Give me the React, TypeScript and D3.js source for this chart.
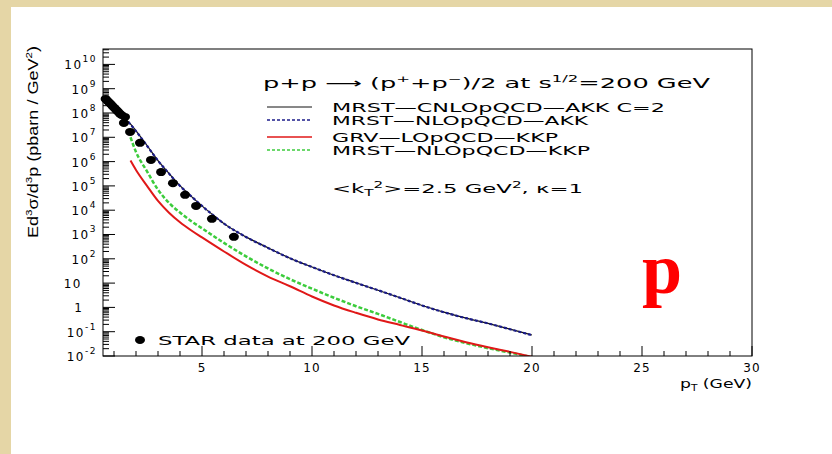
import React from 'react';
import * as d3 from 'd3';

// STAR measured proton+antiproton yields
const starPt = [0.62, 0.7, 0.78, 0.86, 0.94, 1.02, 1.1, 1.18, 1.26, 1.34, 1.45, 1.5, 1.73, 2.18, 2.68, 3.14, 3.68, 4.23, 4.73, 5.45, 6.45];
const starYield = [3.8e8, 3.2e8, 2.7e8, 2.3e8, 1.9e8, 1.6e8, 1.35e8, 1.15e8, 9.5e7, 8.3e7, 3.9e7, 6.9e7, 1.66e7, 5.9e6, 1.17e6, 3.7e5, 1.3e5, 4.3e4, 1.5e4, 4.4e3, 800];

// AKK curves
const akkPt = [1.65, 2, 2.5, 3, 3.5, 4, 4.5, 5, 5.5, 6, 7, 8, 9, 10, 11, 12, 13, 14, 15, 16, 17, 18, 19, 20];
const mrstCnloAkk = [4.5e7, 1.85e7, 4.6e6, 1.1e6, 3.25e5, 1.02e5, 3.8e4, 1.5e4, 6.4e3, 2.8e3, 800, 285, 106, 46, 21, 10.3, 5.1, 2.5, 1.2, 0.64, 0.36, 0.22, 0.127, 0.073];
const mrstNloAkk = [4.3e7, 1.8e7, 4.5e6, 1.1e6, 3.2e5, 1e5, 3.8e4, 1.5e4, 6.3e3, 2.8e3, 790, 280, 105, 46, 21, 10.2, 5.1, 2.5, 1.2, 0.63, 0.36, 0.22, 0.126, 0.072];

// KKP curves
const kkpPt = [1.75, 2, 2.5, 3, 3.5, 4, 4.5, 5, 6, 7, 8, 9, 10, 11, 12, 13, 14, 15, 16, 17, 18, 19, 20];
const grvLoKkp = [1.1e6, 4.5e5, 1e5, 2.4e4, 7.9e3, 3.2e3, 1.5e3, 760, 200, 56, 18.6, 7.4, 2.8, 1.2, 0.6, 0.32, 0.19, 0.112, 0.063, 0.037, 0.023, 0.0148, 0.0093];
const mrstNloKkp = [1e7, 2.5e6, 4e5, 7e4, 2e4, 8e3, 3.6e3, 1.8e3, 450, 126, 40, 14.5, 5.9, 2.5, 1.12, 0.54, 0.25, 0.117, 0.059, 0.034, 0.021, 0.0138, 0.0089];

const xTicks = [5, 10, 15, 20, 25, 30];
const yDecades = [-2, -1, 0, 1, 2, 3, 4, 5, 6, 7, 8, 9, 10];

const font = "'DejaVu Sans', Verdana, sans-serif";

export default function App() {
  const x = d3.scaleLinear().domain([0.5, 30]).range([103, 752]);
  const y = d3.scaleLog().domain([1e-2, 4.3e10]).range([356, 49]);
  const [x0, x1] = x.range();
  const [y0, y1] = y.range();

  const line = d3.line<[number, number]>()
    .x(d => x(d[0]))
    .y(d => y(d[1]))
    .curve(d3.curveMonotoneX);

  const path = (pts: number[], vals: number[]) => line(pts.map((p, i) => [p, vals[i]]) as [number, number][]) || '';

  const minorX = d3.range(1, 30, 1).filter(v => v % 5 !== 0);
  const minorY: number[] = [];
  for (let e = -2; e <= 10; e++) {
    for (let k = 2; k <= 9; k++) {
      const v = k * Math.pow(10, e);
      if (v < y.domain()[1]) minorY.push(v);
    }
  }

  const legend = [
    { label: 'MRST—CNLOpQCD—AKK C=2', color: '#111', dash: null, width: 1, y: 107, len: 333 },
    { label: 'MRST—NLOpQCD—AKK', color: '#1c1c8a', dash: '3,2', width: 1.5, y: 120, len: 256 },
    { label: 'GRV—LOpQCD—KKP', color: '#e01818', dash: null, width: 1.5, y: 137, len: 226 },
    { label: 'MRST—NLOpQCD—KKP', color: '#3ccc3c', dash: '3,2', width: 1.5, y: 150, len: 258 },
  ];

  return (
    <svg width={832} height={454} style={{ position: 'fixed', left: 0, top: 0, background: '#fff' }}>
      <rect x={0} y={0} width={832} height={7} fill="#e5d6a6" />
      <rect x={0} y={0} width={11} height={454} fill="#e5d6a6" />

      <defs>
        <clipPath id="plot">
          <rect x={x0} y={y1} width={x1 - x0} height={y0 - y1} />
        </clipPath>
      </defs>

      {/* curves */}
      <g clipPath="url(#plot)" fill="none">
        <path d={path(kkpPt, mrstNloKkp)} stroke="#3ccc3c" strokeWidth={2.5} strokeDasharray="4,2" />
        <path d={path(kkpPt, grvLoKkp)} stroke="#e01818" strokeWidth={2} />
        <path d={path(akkPt, mrstCnloAkk)} stroke="#111" strokeWidth={1.2} />
        <path d={path(akkPt, mrstNloAkk)} stroke="#1c1c8a" strokeWidth={2.2} strokeDasharray="3,2" />
      </g>

      {/* STAR points */}
      <g fill="#000">
        {starPt.map((p, i) => (
          <ellipse key={i} cx={x(p)} cy={y(starYield[i])} rx={5} ry={4} />
        ))}
      </g>

      {/* frame */}
      <rect x={x0} y={y1} width={x1 - x0} height={y0 - y1} fill="none" stroke="#000" strokeWidth={1} />

      {/* ticks */}
      <g stroke="#000" strokeWidth={1}>
        {minorX.map(v => <line key={'mx' + v} x1={x(v)} x2={x(v)} y1={y0} y2={y0 - 5} />)}
        {xTicks.map(v => <line key={'Mx' + v} x1={x(v)} x2={x(v)} y1={y0} y2={y0 - 10} />)}
        {minorY.map(v => <line key={'my' + v} x1={x0} x2={x0 + 6} y1={y(v)} y2={y(v)} />)}
        {yDecades.map(e => <line key={'My' + e} x1={x0} x2={x0 + 12} y1={y(Math.pow(10, e))} y2={y(Math.pow(10, e))} />)}
      </g>

      <g fontFamily={font} fontSize={12} fill="#000">
        {xTicks.map(v => (
          <text key={'xl' + v} x={x(v)} y={372} textAnchor="middle" letterSpacing={1}>{v}</text>
        ))}
        {yDecades.map(e => {
          const yy = y(Math.pow(10, e)) + 5;
          if (e === 0) return <text key={'yl' + e} x={82} y={yy} textAnchor="end">1</text>;
          if (e === 1) return <text key={'yl' + e} x={82} y={yy} textAnchor="end" letterSpacing={1.5}>10</text>;
          return (
            <text key={'yl' + e} x={97} y={yy} textAnchor="end" letterSpacing={1.5}>
              10<tspan fontSize={9} dy={-7}>{e}</tspan>
            </text>
          );
        })}
      </g>

      {/* axis titles */}
      <text x={680} y={388} fontFamily={font} fontSize={13} textLength={72} lengthAdjust="spacingAndGlyphs">
        p<tspan fontSize={8} dy={3}>T</tspan><tspan dy={-3}> (GeV)</tspan>
      </text>
      <text
        transform="translate(38,142) rotate(-90)"
        textAnchor="middle"
        fontFamily="'Liberation Sans', Arial, sans-serif"
        fontSize={14}
        textLength={192}
        lengthAdjust="spacingAndGlyphs"
      >
        Ed<tspan fontSize={9} dy={-6}>3</tspan><tspan dy={6}>σ/d</tspan><tspan fontSize={9} dy={-6}>3</tspan><tspan dy={6}>p (pbarn / GeV</tspan><tspan fontSize={9} dy={-6}>2</tspan><tspan dy={6}>)</tspan>
      </text>

      {/* header */}
      <text x={263} y={88} fontFamily={font} fontSize={14} textLength={447} lengthAdjust="spacingAndGlyphs">
        p+p ⟶ (p<tspan fontSize={9} dy={-6}>+</tspan><tspan dy={6}>+p</tspan><tspan fontSize={9} dy={-6}>−</tspan><tspan dy={6}>)/2 at s</tspan><tspan fontSize={9} dy={-6}>1/2</tspan><tspan dy={6}>=200 GeV</tspan>
      </text>

      {/* legend */}
      {legend.map(l => (
        <g key={l.label}>
          <line x1={267} x2={312} y1={l.y} y2={l.y} stroke={l.color} strokeWidth={l.width} strokeDasharray={l.dash || undefined} />
          <text x={332} y={l.y + 4.5} fontFamily={font} fontSize={11.5} textLength={l.len} lengthAdjust="spacingAndGlyphs">{l.label}</text>
        </g>
      ))}
      <text x={332} y={193} fontFamily={font} fontSize={12} textLength={251} lengthAdjust="spacingAndGlyphs">
        {'<k'}<tspan fontSize={8} dy={3}>T</tspan><tspan fontSize={8} dy={-8}>2</tspan><tspan dy={5}>{'>=2.5 GeV'}</tspan><tspan fontSize={8} dy={-5}>2</tspan><tspan dy={5}>, κ=1</tspan>
      </text>

      <ellipse cx={140} cy={340} rx={5} ry={4} fill="#000" />
      <text x={158} y={345} fontFamily={font} fontSize={12} textLength={252} lengthAdjust="spacingAndGlyphs">STAR data at 200 GeV</text>

      <text x={642} y={293} fontFamily="'Liberation Serif', 'Times New Roman', serif" fontWeight="bold" fontSize={72} fill="#ff0000">p</text>
    </svg>
  );
}
